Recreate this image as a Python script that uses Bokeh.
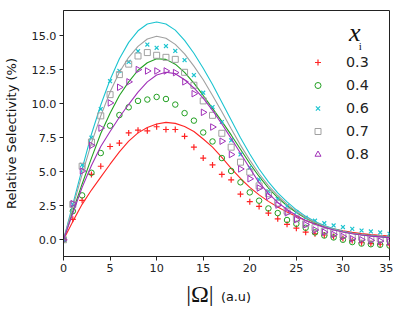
import math
from bokeh.plotting import figure
from bokeh.layouts import column
from bokeh.models import Range1d, FixedTicker, NumeralTickFormatter, Label, Legend, LegendItem
from bokeh.embed import file_html
from bokeh.resources import INLINE

# ---------------- data ----------------
omega = list(range(36))          # measured |Omega| values (a.u)
fit_omega = list(range(36))      # model curve sampling points

x_ticks = [0, 5, 10, 15, 20, 25, 30, 35]
y_ticks = [0, 2.5, 5, 7.5, 10, 12.5, 15]

series_labels = ["0.3", "0.4", "0.6", "0.7", "0.8"]

sel_03 = [0, 1.5, 2.9, 4.8, 5.4, 6.85, 7.1, 7.85, 8.05, 8.0, 8.3, 8.1, 8.1, 7.6, 6.8, 6.0,
          5.5, 4.8, 4.4, 3.35, 2.8, 2.45, 1.96, 1.54, 1.13, 0.85, 0.56, 0.44, 0.35, 0.24,
          0.1, -0.05, -0.22, -0.28, -0.33, -0.38]
sel_04 = [0, 2.1, 3.26, 4.92, 6.37, 8.38, 9.16, 9.73, 10.2, 10.3, 10.49, 10.34, 9.93, 9.3,
          8.75, 7.88, 7.22, 6.0, 5.05, 4.22, 3.48, 2.87, 2.3, 1.96, 1.45, 1.17, 0.88, 0.54,
          0.31, 0.17, 0.0, -0.17, -0.28, -0.33, -0.37, -0.43]
sel_06 = [0, 2.6, 5.5, 7.5, 9.6, 11.65, 12.4, 13.06, 13.85, 14.34, 14.1, 14.23, 13.87, 13.2,
          12.1, 10.8, 9.75, 8.65, 7.3, 6.27, 5.3, 4.42, 3.57, 3.0, 2.47, 2.03, 1.62, 1.4,
          1.22, 1.05, 0.93, 0.8, 0.68, 0.61, 0.54, 0.44]
sel_07 = [0, 2.6, 5.4, 7.18, 9.1, 10.66, 12.13, 12.9, 13.5, 13.75, 13.55, 13.4, 13.25, 12.3,
          11.35, 10.2, 9.14, 7.82, 6.8, 5.7, 4.97, 3.96, 3.38, 2.69, 2.1, 1.54, 1.17, 0.88,
          0.63, 0.49, 0.35, 0.25, 0.18, 0.12, 0.08, 0.05]
sel_08 = [0, 2.65, 5.05, 6.93, 8.2, 10.05, 11.2, 11.6, 12.5, 12.4, 12.4, 12.4, 12.28, 11.6,
          10.73, 9.36, 8.28, 7.24, 6.26, 5.2, 4.48, 3.8, 3.18, 2.55, 1.98, 1.48, 1.11, 0.72,
          0.56, 0.39, 0.24, 0.07, 0.0, -0.05, -0.1, -0.15]

fit_03 = [0, 1.35, 2.6, 3.65, 4.6, 5.55, 6.45, 7.25, 7.85, 8.25, 8.5, 8.62, 8.55, 8.32, 7.95,
          7.4, 6.8, 6.05, 5.25, 4.5, 3.85, 3.3, 2.82, 2.4, 2.03, 1.7, 1.42, 1.18, 0.97, 0.8,
          0.66, 0.54, 0.45, 0.38, 0.32, 0.27]
fit_04 = [0, 2.1, 4.1, 6.0, 7.8, 9.3, 10.6, 11.6, 12.45, 13.0, 13.3, 13.25, 12.9, 12.3, 11.5,
          10.6, 9.65, 8.7, 7.7, 6.65, 5.6, 4.65, 3.8, 3.1, 2.5, 2.0, 1.58, 1.24, 0.97, 0.76,
          0.6, 0.47, 0.37, 0.3, 0.24, 0.19]
fit_06 = [0, 2.6, 5.2, 7.75, 9.9, 11.75, 13.3, 14.5, 15.35, 15.85, 16.0, 15.85, 15.4, 14.65,
          13.7, 12.6, 11.4, 10.1, 8.8, 7.5, 6.3, 5.2, 4.25, 3.45, 2.78, 2.2, 1.72, 1.34, 1.04,
          0.8, 0.62, 0.48, 0.37, 0.29, 0.23, 0.18]
fit_07 = [0, 2.4, 4.8, 7.1, 9.1, 10.85, 12.3, 13.4, 14.2, 14.75, 14.95, 14.8, 14.35, 13.65,
          12.75, 11.75, 10.6, 9.4, 8.15, 6.95, 5.85, 4.85, 3.98, 3.25, 2.62, 2.08, 1.64, 1.28,
          1.0, 0.77, 0.6, 0.46, 0.36, 0.28, 0.22, 0.17]
fit_08 = [0, 1.95, 3.85, 5.45, 6.85, 7.95, 9.0, 9.95, 10.85, 11.6, 12.1, 12.3, 12.2, 11.75,
          11.15, 10.4, 9.5, 8.5, 7.45, 6.35, 5.25, 4.2, 3.4, 2.75, 2.22, 1.78, 1.42, 1.14,
          0.91, 0.72, 0.57, 0.44, 0.35, 0.27, 0.21, 0.16]

colors = ["#ff2424", "#22a022", "#1cc4d0", "#a0a0a0", "#a030b8"]
markers = ["cross", "circle", "x", "square", "triangle"]
marker_sizes = [6, 5.5, 5.5, 6, 6.5]
marker_widths = [1.2, 1, 1.2, 1, 1]
marker_angles = [0, 0, 0, 0, -math.pi / 2]

sel_all = [sel_03, sel_04, sel_06, sel_07, sel_08]
fit_all = [fit_03, fit_04, fit_06, fit_07, fit_08]

# ---------------- main figure ----------------
x_rng = Range1d(0, 35)
p = figure(width=393, height=278, output_backend="svg", toolbar_location=None,
           x_range=x_rng, y_range=Range1d(-1.23, 16.84),
           min_border_left=60, min_border_right=4, min_border_top=10, min_border_bottom=22)
p.grid.visible = False
p.outline_line_color = "#222222"
p.outline_line_width = 1
p.background_fill_color = "white"
p.border_fill_color = "white"

p.xaxis.ticker = FixedTicker(ticks=x_ticks)
p.yaxis.ticker = FixedTicker(ticks=y_ticks)
p.yaxis.formatter = NumeralTickFormatter(format="0.0")
for ax in (p.xaxis[0], p.yaxis[0]):
    ax.major_tick_out = 4
    ax.major_tick_in = 0
    ax.minor_tick_out = 0
    ax.minor_tick_in = 0
    ax.major_label_text_font = "DejaVu Sans"
    ax.major_label_text_font_size = "11.2px"
    ax.major_label_text_color = "#222222"
    ax.axis_line_color = "#222222"
    ax.major_tick_line_color = "#222222"
    ax.major_label_standoff = 3

p.yaxis.axis_label = "Relative Selectivity (%)"
p.yaxis.axis_label_text_font = "DejaVu Sans"
p.yaxis.axis_label_text_font_size = "13px"
p.yaxis.axis_label_text_font_style = "normal"
p.yaxis.axis_label_text_color = "#111111"
p.yaxis.axis_label_standoff = 10

items = []
for lab, sel, fit, col, mk, ms, mw, ang in zip(series_labels, sel_all, fit_all, colors,
                                                markers, marker_sizes, marker_widths,
                                                marker_angles):
    p.line(fit_omega, fit, line_color=col, line_width=1.1)
    r = p.scatter(omega, sel, marker=mk, size=ms, angle=ang, line_color=col,
                  fill_color=None, line_width=mw)
    items.append(LegendItem(label=lab, renderers=[r]))

legend = Legend(items=items, location=(247, 92), border_line_alpha=0,
                background_fill_alpha=0, label_text_font="DejaVu Sans",
                label_text_font_size="14.3px", label_text_color="#222222",
                glyph_width=15, glyph_height=20, label_height=20, spacing=3,
                padding=0, margin=0, label_standoff=21)
p.add_layout(legend)

# legend title x_i
p.add_layout(Label(x=31.28, y=15.21, text="x", text_font="Liberation Serif",
                   text_font_style="italic", text_font_size="26px", text_color="#111111",
                   text_align="center", text_baseline="middle"))
p.add_layout(Label(x=31.86, y=14.25, text="i", text_font="Liberation Serif",
                   text_font_size="11px", text_color="#111111",
                   text_align="center", text_baseline="middle"))

# ---------------- x-axis title strip (shares the x scale) ----------------
p2 = figure(width=393, height=28, output_backend="svg", toolbar_location=None,
            x_range=x_rng, y_range=Range1d(0, 1), x_axis_type=None, y_axis_type=None,
            min_border_left=60, min_border_right=4, min_border_top=0, min_border_bottom=0)
p2.grid.visible = False
p2.outline_line_color = None
p2.background_fill_color = "white"
p2.border_fill_color = "white"
p2.add_layout(Label(x=13.17, y=0.464, text="|Ω|", text_font="Liberation Serif",
                    text_font_size="24px", text_color="#111111",
                    text_align="left", text_baseline="middle"))
p2.add_layout(Label(x=16.9, y=0.357, text="(a.u)", text_font="DejaVu Sans",
                    text_font_size="12.8px", text_color="#111111",
                    text_align="left", text_baseline="middle"))

layout = column(p, p2, spacing=0)
open("out.html", "w").write(file_html(layout, INLINE))
